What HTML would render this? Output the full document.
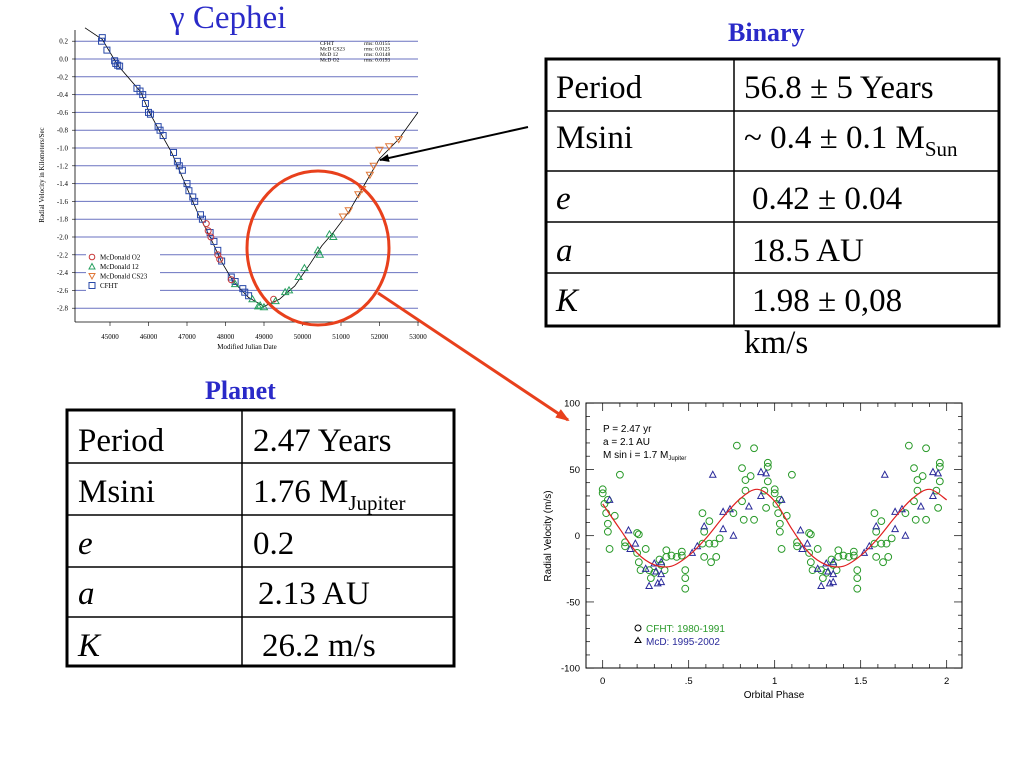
<!DOCTYPE html>
<html><head><meta charset="utf-8"><style>
html,body{margin:0;padding:0;background:#fff;width:1024px;height:768px;overflow:hidden}
svg{display:block}
.t{font-family:"Liberation Serif",serif}
.s{font-family:"Liberation Sans",sans-serif}
</style></head><body>
<svg id="root" width="1024" height="768" viewBox="0 0 1024 768" xmlns="http://www.w3.org/2000/svg">
<text class="t" x="170" y="28" font-size="33" fill="#2a2ac8">γ Cephei</text>
<text class="t" x="728" y="41" font-size="26" font-weight="bold" fill="#2a2ac8">Binary</text>
<text class="t" x="205" y="399" font-size="26" font-weight="bold" fill="#2a2ac8">Planet</text>

<g id="topChart"></g>
<g id="botChart"></g>

<g class="t" font-size="33">
<rect x="546" y="59" width="453" height="267" fill="none" stroke="#000" stroke-width="3"/>
<line x1="734" y1="59" x2="734" y2="326" stroke="#000" stroke-width="1.5"/>
<line x1="546" y1="111" x2="999" y2="111" stroke="#000" stroke-width="1.5"/>
<line x1="546" y1="171" x2="999" y2="171" stroke="#000" stroke-width="1.5"/>
<line x1="546" y1="222" x2="999" y2="222" stroke="#000" stroke-width="1.5"/>
<line x1="546" y1="273" x2="999" y2="273" stroke="#000" stroke-width="1.5"/>
<text x="556" y="98">Period</text><text x="744" y="98">56.8 ± 5 Years</text>
<text x="556" y="148">Msini</text><text x="744" y="148">~ 0.4 ± 0.1 M<tspan font-size="21" dy="8">Sun</tspan></text>
<text x="556" y="209" font-style="italic">e</text><text x="752" y="209">0.42 ± 0.04</text>
<text x="556" y="261" font-style="italic">a</text><text x="752" y="261">18.5 AU</text>
<text x="556" y="311" font-style="italic">K</text><text x="752" y="311">1.98 ± 0,08</text>
<text x="744" y="353">km/s</text>
</g>

<g class="t" font-size="33">
<rect x="67" y="410" width="387" height="256" fill="none" stroke="#000" stroke-width="3"/>
<line x1="242" y1="410" x2="242" y2="666" stroke="#000" stroke-width="1.5"/>
<line x1="67" y1="463" x2="454" y2="463" stroke="#000" stroke-width="1.5"/>
<line x1="67" y1="515" x2="454" y2="515" stroke="#000" stroke-width="1.5"/>
<line x1="67" y1="567" x2="454" y2="567" stroke="#000" stroke-width="1.5"/>
<line x1="67" y1="617" x2="454" y2="617" stroke="#000" stroke-width="1.5"/>
<text x="78" y="451">Period</text><text x="253" y="451">2.47 Years</text>
<text x="78" y="502">Msini</text><text x="253" y="502">1.76 M<tspan font-size="21" dy="8">Jupiter</tspan></text>
<text x="78" y="554" font-style="italic">e</text><text x="253" y="554">0.2</text>
<text x="78" y="604" font-style="italic">a</text><text x="258" y="604">2.13 AU</text>
<text x="78" y="656" font-style="italic">K</text><text x="262" y="656">26.2 m/s</text>
</g>

<defs>
<marker id="ab" markerWidth="10" markerHeight="8" refX="9" refY="4" orient="auto" markerUnits="userSpaceOnUse"><path d="M0,0 L10,4 L0,8 z" fill="#000"/></marker>
<marker id="ar" markerWidth="14" markerHeight="10" refX="12" refY="5" orient="auto" markerUnits="userSpaceOnUse"><path d="M0,0 L14,5 L0,10 z" fill="#e8401c"/></marker>
</defs>
<ellipse cx="318" cy="248" rx="71" ry="77" fill="none" stroke="#e8401c" stroke-width="3"/>
<line x1="378" y1="293" x2="568" y2="420" stroke="#e8401c" stroke-width="3" marker-end="url(#ar)"/>
<line x1="528" y1="127" x2="380" y2="160" stroke="#000" stroke-width="2" marker-end="url(#ab)"/>
</svg>
<script>
// ---- top chart data (gamma Cephei binary RV) ----
const modelMjd=[44350,44800,45200,45800,46000,46300,46600,47000,47300,47600,47900,48200,48600,49000,49400,49800,50200,50500,50800,51200,51600,52000,52500,53000];
const modelRv=[0.35,0.22,-0.07,-0.37,-0.58,-0.82,-1.05,-1.45,-1.75,-2.0,-2.28,-2.5,-2.68,-2.78,-2.7,-2.55,-2.3,-2.1,-1.95,-1.72,-1.42,-1.12,-0.9,-0.6];
const cfhtMjd=[44780,44800,44920,45120,45150,45200,45250,45700,45780,45850,45920,46000,46050,46250,46300,46380,46650,46750,46800,46880,47000,47050,47150,47200,47350,47400,47600,47700,47800,47900,48150,48250,48450,48500,48600];
const cfhtRv=[0.2,0.24,0.1,-0.02,-0.05,-0.07,-0.08,-0.33,-0.36,-0.4,-0.5,-0.6,-0.62,-0.76,-0.8,-0.86,-1.05,-1.15,-1.2,-1.25,-1.4,-1.48,-1.55,-1.6,-1.75,-1.8,-1.95,-2.05,-2.15,-2.27,-2.45,-2.5,-2.58,-2.62,-2.66];
const o2Mjd=[47500,47550,47620,47800,47850,48150,49250];
const o2Rv=[-1.85,-1.93,-2.0,-2.2,-2.25,-2.48,-2.7];
const m12Mjd=[48250,48700,48850,48900,49000,49300,49550,49650,49900,50050,50400,50450,50700,50800];
const m12Rv=[-2.53,-2.7,-2.78,-2.77,-2.79,-2.72,-2.62,-2.6,-2.45,-2.35,-2.15,-2.2,-1.97,-2.0];
const cs23Mjd=[51050,51200,51450,51550,51750,51850,52000,52250,52500];
const cs23Rv=[-1.77,-1.7,-1.52,-1.46,-1.3,-1.2,-1.02,-0.98,-0.9];
const topYTicks=[0.2,0.0,-0.2,-0.4,-0.6,-0.8,-1.0,-1.2,-1.4,-1.6,-1.8,-2.0,-2.2,-2.4,-2.6,-2.8];
const topXTicks=[45000,46000,47000,48000,49000,50000,51000,52000,53000];
const rmsNames=["CFHT","McD CS23","McD 12","McD O2"];
const rmsVals=["0.0155","0.0125","0.0148","0.0193"];

// ---- bottom chart data (planet RV vs phase) ----
const modelPhase=[0,0.1,0.2,0.3,0.4,0.5,0.6,0.7,0.8,0.9,1.0,1.1,1.2,1.3,1.4,1.5,1.6,1.7,1.8,1.9,2.0];
const modelVel=[24,5,-13,-22,-23,-15,-2,14,28,35,26,5,-13,-22,-23,-15,-2,14,28,35,27];
const cPhase=[0,0,0.01,0.03,0.02,0.03,0.03,0.04,0.07,0.1,0.13,0.13,0.2,0.21,0.2,0.21,0.22,0.25,0.27,0.28,0.3,0.33,0.34,0.36,0.37,0.37,0.4,0.43,0.46,0.46,0.48,0.48,0.48,0.58,0.59,0.58,0.59,0.62,0.62,0.63,0.65,0.66,0.68,0.76,0.78,0.81,0.81,0.82,0.83,0.83,0.86,0.88,0.88,0.94,0.95,0.96,0.96,0.96];
const cVel=[35,32,24,27,17,9,3,-10,15,46,-5,-8,2,1,-13,-20,-26,-10,-26,-32,-28,-18,-22,-26,-11,-16,-15,-16,-12,-15,-26,-32,-40,17,3,-6,-16,-6,11,-20,-6,-16,-2,17,68,26,51,12,42,34,45,66,12,34,21,55,52,41];
const tPhase=[0.04,0.15,0.16,0.19,0.25,0.27,0.30,0.31,0.32,0.34,0.34,0.34,0.52,0.55,0.59,0.64,0.7,0.7,0.74,0.76,0.85,0.92,0.92,0.95];
const tVel=[27,4,-10,-6,-25,-38,-21,-27,-36,-35,-29,-20,-13,-8,7,46,5,18,20,0,22,30,48,47];
const botYTicks=[100,50,0,-50,-100];
const botXTicks=[0,0.5,1,1.5,2];
const botXLabels=["0",".5","1","1.5","2"];

const NS='http://www.w3.org/2000/svg';
function mk(tag,parent,attrs){const e=document.createElementNS(NS,tag);for(const k in attrs)e.setAttribute(k,attrs[k]);parent.appendChild(e);return e;}

// top chart axes
const tx=m=>110+(m-45000)*0.0385;
const ty=v=>59-v*89;
const topG=document.getElementById('topChart');
topYTicks.forEach(v=>{
  const l=mk('line',topG,{x1:75,x2:418,y1:ty(v),y2:ty(v),stroke:'#6a72c0','stroke-width':1});
  
  
  const t=mk('text',topG,{x:68,y:ty(v)+2.5,'font-size':7,'text-anchor':'end','font-family':'Liberation Serif,serif'});
  t.textContent=v.toFixed(1);
  
  
  mk('line',topG,{x1:72,x2:75,y1:ty(v),y2:ty(v),stroke:'#000','stroke-width':0.6});
});
mk('line',topG,{x1:75,x2:75,y1:30,y2:322,stroke:'#000','stroke-width':0.8});
mk('line',topG,{x1:75,x2:420,y1:322,y2:322,stroke:'#000','stroke-width':0.8});
topXTicks.forEach(m=>{
  mk('line',topG,{x1:tx(m),x2:tx(m),y1:322,y2:326,stroke:'#000','stroke-width':0.6});
  const t=mk('text',topG,{x:tx(m),y:339,'font-size':7,'text-anchor':'middle','font-family':'Liberation Serif,serif'});
  t.textContent=m;
  
  
});
let tt=mk('text',topG,{x:247,y:349,'font-size':7,'text-anchor':'middle','font-family':'Liberation Serif,serif'});
tt.textContent='Modified Julian Date';


tt=mk('text',topG,{x:0,y:0,'font-size':7,'text-anchor':'middle','font-family':'Liberation Serif,serif',transform:'translate(44,175) rotate(-90)'});
tt.textContent='Radial Velocity in Kilometers/Sec';


rmsNames.forEach((n,i)=>{
  const a=mk('text',topG,{x:320,y:45+i*5.5,'font-size':5.5,'font-family':'Liberation Serif,serif'});a.textContent=n;
  const b=mk('text',topG,{x:364,y:45+i*5.5,'font-size':5.5,'font-family':'Liberation Serif,serif'});b.textContent='rms: '+rmsVals[i];
  
  
});
const mp=mk('polyline',topG,{points:modelMjd.map((m,i)=>tx(m)+','+ty(modelRv[i])).join(' '),fill:'none',stroke:'#000','stroke-width':0.8});


cfhtMjd.forEach((m,i)=>{
  const r=mk('rect',topG,{x:tx(m)-3,y:ty(cfhtRv[i])-3,width:6,height:6,fill:'none',stroke:'#2848a8','stroke-width':1});
  
  
});
o2Mjd.forEach((m,i)=>{
  const c=mk('circle',topG,{cx:tx(m),cy:ty(o2Rv[i]),r:3,fill:'none',stroke:'#c83838','stroke-width':1});
  
  
});
m12Mjd.forEach((m,i)=>{
  const x=tx(m),y=ty(m12Rv[i]);
  const p=mk('polygon',topG,{points:`${x},${y-3.5} ${x-3.5},${y+2.5} ${x+3.5},${y+2.5}`,fill:'none',stroke:'#28a060','stroke-width':1});
  
  
});
cs23Mjd.forEach((m,i)=>{
  const x=tx(m),y=ty(cs23Rv[i]);
  const p=mk('polygon',topG,{points:`${x},${y+3.5} ${x-3.5},${y-2.5} ${x+3.5},${y-2.5}`,fill:'none',stroke:'#e07838','stroke-width':1});
  
  
});
mk('rect',topG,{x:86,y:250,width:74,height:44,fill:'#fff'});
const legs=[['McDonald O2','#c83838','c'],['McDonald 12','#28a060','t'],['McDonald CS23','#e07838','d'],['CFHT','#2848a8','s']];
legs.forEach((L,i)=>{
  const y=257+i*9.5,x=92;
  if(L[2]=='c')mk('circle',topG,{cx:x,cy:y,r:2.8,fill:'none',stroke:L[1]});
  if(L[2]=='t')mk('polygon',topG,{points:`${x},${y-3} ${x-3},${y+2.5} ${x+3},${y+2.5}`,fill:'none',stroke:L[1]});
  if(L[2]=='d')mk('polygon',topG,{points:`${x},${y+3} ${x-3},${y-2.5} ${x+3},${y-2.5}`,fill:'none',stroke:L[1]});
  if(L[2]=='s')mk('rect',topG,{x:x-3,y:y-3,width:6,height:6,fill:'none',stroke:L[1]});
  const t=mk('text',topG,{x:100,y:y+2.5,'font-size':7,'font-family':'Liberation Serif,serif'});
  t.textContent=L[0];
  
  
});

// bottom chart
const bx=p=>602.7+p*172;
const by=v=>535.7-v*1.325;
const botG=document.getElementById('botChart');
const box=mk('rect',botG,{x:586,y:403,width:376,height:265,fill:'none',stroke:'#000','stroke-width':1});


for(let v=-100;v<=100;v+=10){
  const len=(v%50===0)?8:4;
  mk('line',botG,{x1:586,x2:586+len,y1:by(v),y2:by(v),stroke:'#000','stroke-width':0.7});
  mk('line',botG,{x1:962-len,x2:962,y1:by(v),y2:by(v),stroke:'#000','stroke-width':0.7});
}
for(let p=0;p<=2.0001;p+=0.1){
  const len=(Math.round(p*10)%5===0)?8:4;
  mk('line',botG,{x1:bx(p),x2:bx(p),y1:668-len,y2:668,stroke:'#000','stroke-width':0.7});
  mk('line',botG,{x1:bx(p),x2:bx(p),y1:403,y2:403+len,stroke:'#000','stroke-width':0.7});
}
botYTicks.forEach(v=>{
  const t=mk('text',botG,{x:580,y:by(v)+3.5,'font-size':9.5,'text-anchor':'end','font-family':'Liberation Sans,sans-serif'});
  t.textContent=v;
  
  
});
botXTicks.forEach((p,i)=>{
  const t=mk('text',botG,{x:bx(p),y:684,'font-size':9.5,'text-anchor':'middle','font-family':'Liberation Sans,sans-serif'});
  t.textContent=botXLabels[i];
  
  
});
tt=mk('text',botG,{x:774,y:698,'font-size':10,'text-anchor':'middle','font-family':'Liberation Sans,sans-serif'});
tt.textContent='Orbital Phase';


tt=mk('text',botG,{x:0,y:0,'font-size':10,'text-anchor':'middle','font-family':'Liberation Sans,sans-serif',transform:'translate(551,536) rotate(-90)'});
tt.textContent='Radial Velocity (m/s)';


[['P = 2.47 yr',432],['a = 2.1 AU',445]].forEach(a=>{
  const t=mk('text',botG,{x:603,y:a[1],'font-size':10,'font-family':'Liberation Sans,sans-serif'});t.textContent=a[0];
  
  
});
tt=mk('text',botG,{x:603,y:458,'font-size':10,'font-family':'Liberation Sans,sans-serif'});
tt.textContent='M  sin  i  =  1.7  M';
const sub=mk('tspan',tt,{'font-size':6,dy:2});
sub.textContent='Jupiter';


for(let k=0;k<2;k++){
  cPhase.forEach((p,i)=>{
    const c=mk('circle',botG,{cx:bx(p+k),cy:by(cVel[i]),r:3.4,fill:'none',stroke:'#2a9a2a','stroke-width':1});
    
    
  });
}
for(let k=0;k<2;k++){
  tPhase.forEach((p,i)=>{
    const x=bx(p+k),y=by(tVel[i]);
    const q=mk('polygon',botG,{points:`${x},${y-3.5} ${x-3.2},${y+2.5} ${x+3.2},${y+2.5}`,fill:'none',stroke:'#2a2a9a','stroke-width':1});
    
    
  });
}
(function(){
  const pts=modelPhase.map((p,i)=>[bx(p),by(modelVel[i])]);
  let d='M'+pts[0][0]+','+pts[0][1];
  for(let i=0;i<pts.length-1;i++){
    const p0=pts[Math.max(0,i-1)],p1=pts[i],p2=pts[i+1],p3=pts[Math.min(pts.length-1,i+2)];
    d+=` C${p1[0]+(p2[0]-p0[0])/6},${p1[1]+(p2[1]-p0[1])/6} ${p2[0]-(p3[0]-p1[0])/6},${p2[1]-(p3[1]-p1[1])/6} ${p2[0]},${p2[1]}`;
  }
  const path=mk('path',botG,{d:d,fill:'none',stroke:'#e02020','stroke-width':1.2});
  
  
})();
mk('circle',botG,{cx:638,cy:628,r:3,fill:'none',stroke:'#000'});
tt=mk('text',botG,{x:646,y:632,'font-size':10,fill:'#2a9a2a','font-family':'Liberation Sans,sans-serif'});
tt.textContent='CFHT: 1980-1991';


mk('polygon',botG,{points:'638,637.5 635,642.5 641,642.5',fill:'none',stroke:'#000'});
tt=mk('text',botG,{x:646,y:645,'font-size':10,fill:'#2a2a9a','font-family':'Liberation Sans,sans-serif'});
tt.textContent='McD: 1995-2002';


</script>
</body></html>
